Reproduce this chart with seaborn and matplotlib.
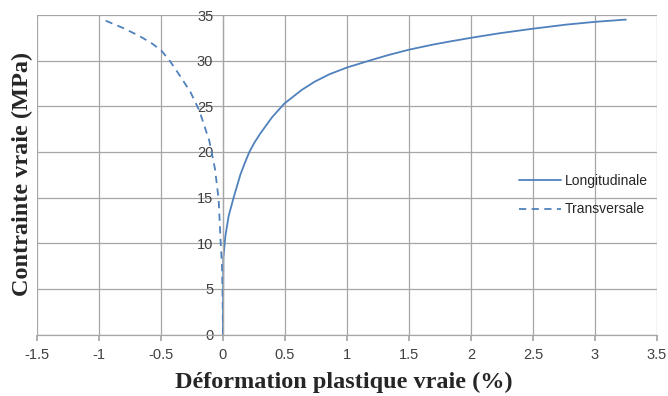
import numpy as np
import pandas as pd
import matplotlib
matplotlib.use("Agg")
import matplotlib.pyplot as plt
import seaborn as sns

# data (strain in %, stress in MPa)
long_strain = [0.0, 0.001, 0.003, 0.019, 0.046, 0.086, 0.14, 0.175, 0.213, 0.255,
               0.30, 0.396, 0.495, 0.636, 0.74, 0.857, 1.0, 1.18, 1.33, 1.5,
               1.69, 1.83, 2.0, 2.23, 2.5, 2.77, 3.0, 3.25]
long_stress = [0.0, 3.0, 8.4, 10.75, 13.0, 15.0, 17.5, 18.75, 20.0, 21.05,
               22.0, 23.8, 25.3, 26.8, 27.7, 28.5, 29.25, 30.0, 30.6, 31.2,
               31.75, 32.1, 32.5, 33.0, 33.5, 33.95, 34.25, 34.5]

trans_strain = [0.0, -0.003, -0.008, -0.02, -0.035, -0.064, -0.11, -0.19, -0.26,
                -0.34, -0.43, -0.5, -0.575, -0.68, -0.81, -0.95]
trans_stress = [0.0, 4.0, 7.5, 10.4, 14.8, 18.1, 21.2, 24.5, 26.5,
                28.2, 30.0, 31.15, 31.9, 32.75, 33.6, 34.4]

x_ticks = np.arange(-1.5, 3.51, 0.5)
y_ticks = np.arange(0, 36, 5)

blue = "#4f81bd"
grid = "#a6a6a6"

sns.set_theme(style="white")
plt.rcParams["font.family"] = ["Liberation Sans", "DejaVu Sans"]

fig = plt.figure(figsize=(6.68, 3.96), dpi=100)
ax = fig.add_axes([0.0554, 0.1553, 0.928, 0.8068])

df_long = pd.DataFrame({"x": long_strain, "y": long_stress})
df_trans = pd.DataFrame({"x": trans_strain, "y": trans_stress})

sns.lineplot(data=df_long, x="x", y="y", sort=False, estimator=None,
             color=blue, linewidth=1.3, label="Longitudinale", ax=ax)
sns.lineplot(data=df_trans, x="x", y="y", sort=False, estimator=None,
             color=blue, linewidth=1.3, linestyle=(0, (4, 3)),
             label="Transversale", ax=ax)

ax.set_xlim(-1.5, 3.5)
ax.set_ylim(0, 35)
ax.set_xticks(x_ticks)
ax.set_yticks(y_ticks)
ax.set_xticklabels([f"{v:g}" for v in x_ticks])
ax.set_yticklabels([f"{v:g}" for v in y_ticks])
ax.grid(True, color=grid, linewidth=0.9)
ax.set_axisbelow(True)

for s in ["top", "right"]:
    ax.spines[s].set_visible(False)
ax.spines["left"].set_position(("data", 0))
ax.spines["left"].set_color(grid)
ax.spines["bottom"].set_color(grid)
ax.spines["left"].set_linewidth(0.9)
ax.spines["bottom"].set_linewidth(0.9)

ax.tick_params(axis="y", length=0, pad=7, labelsize=10.5, colors="#404040")
ax.tick_params(axis="x", length=4, direction="out", color=grid, pad=6,
               labelsize=10.5, labelcolor="#404040", bottom=True)
ax.set_xlabel("")
ax.set_ylabel("")

leg = ax.legend(loc="center left", bbox_to_anchor=(0.758, 0.436), frameon=False,
                fontsize=10, handlelength=3.0, labelspacing=1.05, handletextpad=0.3)

fig.text(0.515, 0.035, "Déformation plastique vraie (%)", ha="center", va="center",
         fontsize=17.5, fontweight="bold", family="Liberation Serif")
fig.text(0.033, 0.56, "Contrainte vraie (MPa)", ha="center", va="center",
         rotation=90, fontsize=17.5, fontweight="bold", family="Liberation Serif")

fig.savefig("out.png", dpi=100)
